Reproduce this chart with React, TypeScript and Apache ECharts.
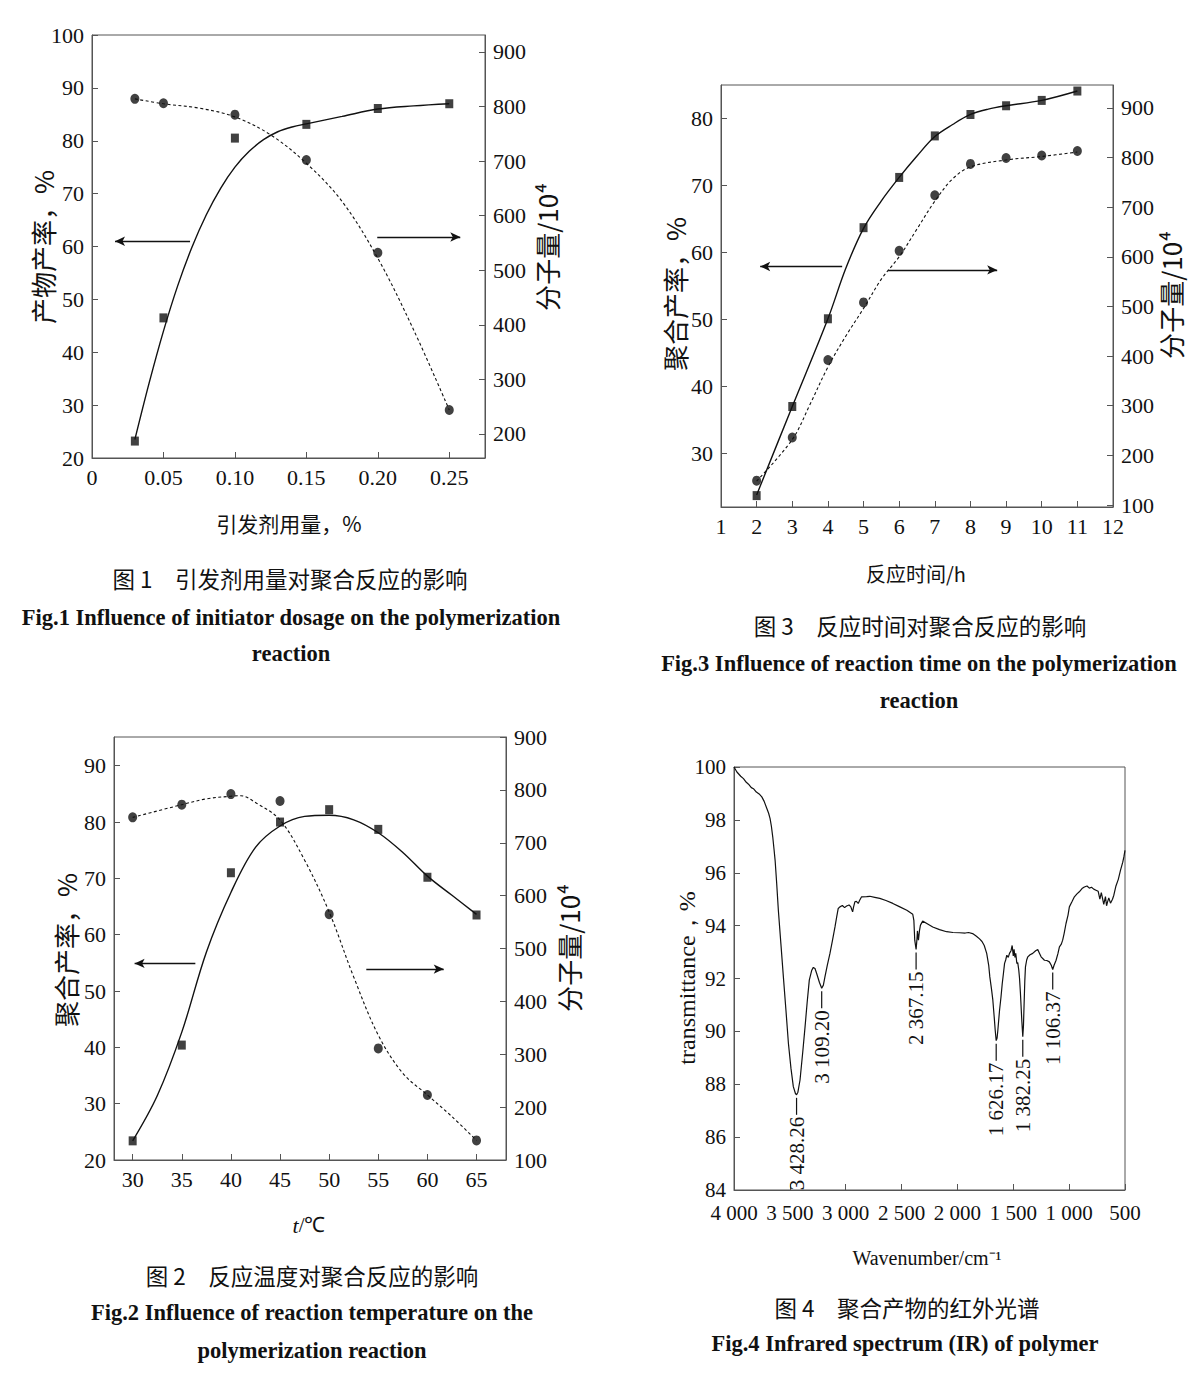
import React, { useEffect, useRef } from "react";
import * as echarts from "echarts";

const SERIF = "'Liberation Serif', 'Times New Roman', serif";
const CJK = "'Noto Sans CJK SC', 'Noto Sans', sans-serif";
const INK = "#111";
const FRAME = "#555";

// ---------- Fig.1 initiator dosage ----------
const fig1Dosage = [0.03, 0.05, 0.1, 0.15, 0.2, 0.25];
const fig1Yield = [23.2, 46.5, 80.5, 83.1, 86.1, 87.0];
const fig1MW = [814, 806, 785, 702, 532, 244];
const fig1YieldCurveX = [0.03, 0.04, 0.05, 0.06, 0.07, 0.08, 0.09, 0.1, 0.11, 0.12, 0.13, 0.14, 0.15, 0.175, 0.2, 0.225, 0.25];
const fig1YieldCurve = [23.5, 34.2, 44, 52.6, 59.9, 66.0, 71.0, 75.0, 78.0, 80.2, 81.7, 82.6, 83.2, 84.6, 86.0, 86.6, 87.0];
const fig1MWCurveX = [0.03, 0.05, 0.075, 0.1, 0.125, 0.15, 0.175, 0.2, 0.225, 0.25];
const fig1MWCurve = [814, 805, 797, 781, 748, 696, 626, 522, 391, 244];
const fig1Arrows = [[0.0686, 0.0161, 61.0], [0.1996, 0.2577, 61.8]];

// ---------- Fig.3 reaction time ----------
const fig3Time = [2, 3, 4, 5, 6, 7, 8, 9, 10, 11];
const fig3Yield = [23.7, 37.0, 50.1, 63.7, 71.2, 77.4, 80.6, 81.9, 82.7, 84.1];
const fig3MW = [149, 236, 392, 508, 612, 724, 787, 799, 804, 813];
const fig3YieldCurveX = [2, 3, 4, 4.5, 5, 5.5, 6, 6.5, 7, 7.5, 8, 8.5, 9, 10, 11];
const fig3YieldCurve = [23.8, 37, 50.1, 57.6, 63.6, 67.7, 71.2, 74.4, 77.3, 79.1, 80.6, 81.4, 81.9, 82.7, 84.1];
const fig3MWCurveX = [2, 3, 3.5, 4, 4.5, 5, 5.5, 6, 6.5, 7, 7.5, 8, 9, 10, 11];
const fig3MWCurve = [148, 232, 303, 378, 440, 496, 555, 600, 656, 712, 757, 781, 795, 802, 811];
const fig3Arrows = [[4.4, 2.1, 57.9], [5.69, 8.75, 57.4]];

// ---------- Fig.2 reaction temperature ----------
const fig2Temp = [30, 35, 40, 45, 50, 55, 60, 65];
const fig2Yield = [23.4, 40.4, 71.0, 80.0, 82.2, 78.7, 70.2, 63.5];
const fig2MW = [748, 772, 792, 779, 565, 311, 223, 137];
const fig2YieldCurveX = [30, 32.5, 35, 37.5, 40, 42.5, 45, 47.5, 50, 52.5, 55, 57.5, 60, 62.5, 65];
const fig2YieldCurve = [23.4, 31.4, 42.7, 56.9, 67.5, 75.5, 79.3, 81.0, 81.2, 80.4, 78.1, 74.6, 70.4, 67.0, 63.6];
const fig2MWCurveX = [30, 35, 37.5, 40, 41, 42.5, 45, 47.5, 50, 52.5, 55, 57.5, 60, 62.5, 65];
const fig2MWCurve = [748, 772, 783, 788, 789, 776, 743, 667, 569, 446, 336, 264, 223, 182, 137];
const fig2Arrows = [[36.38, 30.2, 54.9], [53.78, 61.66, 53.9]];

// ---------- Fig.4 IR spectrum [wavenumber, transmittance] ----------
const irSpectrum = [
  [4000, 100], [3974, 99.81], [3940, 99.65], [3915, 99.56], [3890, 99.42], [3870, 99.35], [3845, 99.22],
  [3826, 99.18], [3800, 99.05], [3775, 98.98], [3751, 98.87], [3730, 98.7], [3706, 98.43], [3690, 98.25],
  [3677, 98.05], [3665, 97.75], [3653, 97.35], [3642, 96.9], [3632, 96.47], [3618, 95.6], [3603, 94.58],
  [3580, 93.3], [3558, 92.06], [3535, 90.8], [3513, 89.55], [3490, 88.6], [3469, 87.91], [3450, 87.65],
  [3440, 87.6], [3428, 87.7], [3409, 88.16], [3385, 89.2], [3364, 90.17], [3345, 91.1], [3326, 91.94],
  [3305, 92.3], [3290, 92.42], [3275, 92.38], [3260, 92.19], [3235, 91.85], [3215, 91.63], [3200, 91.75],
  [3186, 92.06], [3165, 92.5], [3141, 92.95], [3118, 93.45], [3096, 93.95], [3080, 94.35], [3067, 94.65],
  [3052, 94.71], [3030, 94.76], [3010, 94.68], [2992, 94.74], [2970, 94.78], [2955, 94.72], [2945, 94.6],
  [2938, 94.52], [2930, 94.7], [2918, 94.9], [2905, 94.92], [2888, 94.84], [2875, 94.96], [2858, 95.09],
  [2813, 95.1], [2784, 95.11], [2740, 95.07], [2695, 95.03], [2640, 94.95], [2578, 94.84], [2520, 94.72],
  [2453, 94.58], [2400, 94.43], [2390, 94.2], [2382, 93.45], [2370, 93.1], [2362, 93.5], [2358, 93.8],
  [2353, 93.6], [2349, 93.45], [2340, 93.8], [2331, 94.02], [2311, 94.17], [2270, 94.07], [2221, 93.95],
  [2160, 93.85], [2097, 93.77], [2040, 93.74], [1980, 93.73], [1930, 93.72], [1900, 93.74], [1864, 93.7],
  [1830, 93.6], [1802, 93.5], [1780, 93.4], [1760, 93.25], [1738, 92.95], [1720, 92.5], [1710, 92.06],
  [1695, 91.6], [1683, 91.18], [1670, 90.5], [1662, 90.05], [1653, 89.65], [1645, 89.75], [1638, 90.05],
  [1623, 90.8], [1610, 91.3], [1599, 91.8], [1588, 92.2], [1578, 92.57], [1568, 92.7], [1558, 92.88],
  [1545, 92.8], [1534, 92.95], [1520, 93.05], [1510, 93.25], [1500, 92.85], [1493, 93.1], [1485, 92.8],
  [1478, 92.95], [1468, 92.57], [1460, 92.6], [1451, 92.32], [1444, 92.0], [1436, 91.44], [1424, 90.43],
  [1415, 89.8], [1409, 90.2], [1403, 91.06], [1397, 91.9], [1391, 92.44], [1380, 92.7], [1370, 92.82],
  [1350, 92.9], [1326, 92.95], [1300, 93.05], [1281, 93.1], [1265, 92.95], [1251, 92.82], [1221, 92.69],
  [1200, 92.68], [1177, 92.63], [1160, 92.5], [1147, 92.34], [1135, 92.5], [1117, 92.69], [1100, 92.95],
  [1087, 93.2], [1070, 93.3], [1058, 93.45], [1045, 93.7], [1028, 94.08], [1010, 94.4], [998, 94.71],
  [975, 94.9], [953, 95.09], [930, 95.2], [909, 95.28], [885, 95.4], [864, 95.46], [840, 95.5],
  [819, 95.42], [800, 95.45], [780, 95.38], [760, 95.34], [740, 95.3], [725, 95.0], [712, 95.25],
  [701, 95.03], [690, 94.8], [675, 95.1], [665, 94.75], [656, 94.9], [645, 95.05], [630, 94.85],
  [612, 95.0], [600, 95.15], [581, 95.5], [560, 95.75], [540, 96.1], [520, 96.4], [510, 96.6], [500, 96.85],
];
const irPeakX = [3440, 3215, 2370, 1653, 1415, 1147];
const irPeakY = [87.6, 91.63, 93.1, 89.65, 89.8, 92.34];
const irPeakLabels = ["3 428.26", "3 109.20", "2 367.15", "1 626.17", "1 382.25", "1 106.37"];

const zip = (xs: number[], ys: number[]) => xs.map((x, i) => [x, ys[i]]);

const axisBase = (extra: any = {}, size = 22, family = SERIF) => {
  const { axisLabel: extraLabel, ...rest } = extra;
  return {
    type: "value",
    axisLine: { show: true, onZero: false, lineStyle: { color: FRAME, width: 1 } },
    axisTick: { show: true, inside: true, length: 6, lineStyle: { color: FRAME, width: 1 } },
    splitLine: { show: false },
    ...rest,
    axisLabel: {
      color: INK,
      fontSize: size,
      fontFamily: family,
      fontStyle: "normal",
      fontWeight: "normal",
      margin: 8,
      ...(extraLabel || {}),
    },
  };
};

const curve = (xi: number, yi: number, data: number[][], dashed: boolean) => ({
  type: "line",
  xAxisIndex: xi,
  yAxisIndex: yi,
  data,
  smooth: 0.35,
  symbol: "none",
  showSymbol: false,
  silent: true,
  z: 2,
  lineStyle: { color: INK, width: dashed ? 1.1 : 1.4, type: dashed ? [3, 2.5] : "solid" },
});

const marks = (xi: number, yi: number, data: number[][], symbol: string, size: number[], arrows?: number[][]) => ({
  type: "scatter",
  xAxisIndex: xi,
  yAxisIndex: yi,
  data,
  symbol,
  symbolSize: size,
  silent: true,
  z: 3,
  itemStyle: { color: INK },
  markLine: arrows
    ? {
        silent: true,
        symbol: ["none", "arrow"],
        symbolSize: [7, 10],
        label: { show: false },
        lineStyle: { color: INK, width: 1.3, type: "solid" },
        data: arrows.map(([a, b, y]) => [{ coord: [a, y] }, { coord: [b, y] }]),
      }
    : undefined,
});

const gridStyle = { show: true, borderColor: FRAME, borderWidth: 1, backgroundColor: "transparent" };

const wnFmt = (v: number) => (v >= 1000 ? `${Math.floor(v / 1000)} ${String(v % 1000).padStart(3, "0")}` : String(v));

function buildOption() {
  return {
    animation: false,
    backgroundColor: "#fff",
    textStyle: { fontFamily: SERIF },
    grid: [
      { left: 92, top: 35, width: 393, height: 423, ...gridStyle },
      { left: 721, top: 85, width: 392, height: 422, ...gridStyle },
      { left: 114, top: 737, width: 392, height: 423, ...gridStyle },
      { left: 734, top: 767, width: 391, height: 423, ...gridStyle },
    ],
    xAxis: [
      axisBase({
        gridIndex: 0, min: 0, max: 0.275, interval: 0.05,
        axisLabel: { showMinLabel: true, showMaxLabel: false, formatter: (v: number) => (v === 0 ? "0" : v.toFixed(2)) },
      }),
      axisBase({ gridIndex: 1, min: 1, max: 12, interval: 1, axisLabel: { showMinLabel: true, showMaxLabel: true } }),
      axisBase({
        gridIndex: 2, min: 28.1, max: 68, minInterval: 5, maxInterval: 5,
        axisLabel: { showMinLabel: false, showMaxLabel: false },
      }),
      axisBase(
        {
          gridIndex: 3, min: 500, max: 4000, interval: 500, inverse: true,
          axisLabel: { showMinLabel: true, showMaxLabel: true, margin: 12, formatter: wnFmt },
        },
        21
      ),
    ],
    yAxis: [
      axisBase({ gridIndex: 0, position: "left", min: 20, max: 100, interval: 10, axisLabel: { showMinLabel: true, showMaxLabel: true } }),
      axisBase({
        gridIndex: 0, position: "right", min: 156, max: 931, minInterval: 100, maxInterval: 100,
        axisLabel: { showMinLabel: false, showMaxLabel: false },
      }),
      axisBase({
        gridIndex: 1, position: "left", min: 22, max: 85, minInterval: 10, maxInterval: 10,
        axisLabel: { showMinLabel: false, showMaxLabel: false },
      }),
      axisBase({
        gridIndex: 1, position: "right", min: 96, max: 946, minInterval: 100, maxInterval: 100,
        axisLabel: { showMinLabel: false, showMaxLabel: false },
      }),
      axisBase({ gridIndex: 2, position: "left", min: 20, max: 95.1, interval: 10, axisLabel: { showMinLabel: true, showMaxLabel: false } }),
      axisBase({ gridIndex: 2, position: "right", min: 100, max: 900, interval: 100, axisLabel: { showMinLabel: true, showMaxLabel: true } }),
      axisBase({ gridIndex: 3, position: "left", min: 84, max: 100, interval: 2, axisLabel: { showMinLabel: true, showMaxLabel: true } }, 21),
    ],
    series: [
      curve(0, 0, zip(fig1YieldCurveX, fig1YieldCurve), false),
      curve(0, 1, zip(fig1MWCurveX, fig1MWCurve), true),
      marks(0, 0, zip(fig1Dosage, fig1Yield), "rect", [8, 9], fig1Arrows),
      marks(0, 1, zip(fig1Dosage, fig1MW), "circle", [9, 10]),

      curve(1, 2, zip(fig3YieldCurveX, fig3YieldCurve), false),
      curve(1, 3, zip(fig3MWCurveX, fig3MWCurve), true),
      marks(1, 2, zip(fig3Time, fig3Yield), "rect", [8, 9], fig3Arrows),
      marks(1, 3, zip(fig3Time, fig3MW), "circle", [9, 10]),

      curve(2, 4, zip(fig2YieldCurveX, fig2YieldCurve), false),
      curve(2, 5, zip(fig2MWCurveX, fig2MWCurve), true),
      marks(2, 4, zip(fig2Temp, fig2Yield), "rect", [8, 9], fig2Arrows),
      marks(2, 5, zip(fig2Temp, fig2MW), "circle", [9, 10]),

      {
        type: "line",
        xAxisIndex: 3,
        yAxisIndex: 6,
        data: irSpectrum,
        symbol: "none",
        showSymbol: false,
        silent: true,
        lineStyle: { color: INK, width: 1.2 },
      },
    ],
  };
}

const txt = (x: number, y: number, text: string, o: any = {}) => ({
  type: "text",
  x,
  y,
  rotation: o.rot ? Math.PI / 2 : 0,
  silent: true,
  z: 10,
  style: {
    text,
    fontSize: o.size || 22,
    fontFamily: o.family || CJK,
    fontWeight: o.weight || "normal",
    fill: INK,
    align: o.align || "center",
    textAlign: o.align || "center",
    verticalAlign: "middle",
    textVerticalAlign: "middle",
    rich: o.rich,
  },
});

function buildGraphics(chart: any) {
  const g: any[] = [
    txt(42, 247, "产物产率，%", { rot: true, size: 26 }),
    txt(546, 247, "分子量/10⁴", { rot: true, size: 26 }),
    txt(289, 523, "引发剂用量，%", { size: 21 }),
    txt(674, 294, "聚合产率，%", { rot: true, size: 26 }),
    txt(1170, 295, "分子量/10⁴", { rot: true, size: 26 }),
    txt(916, 573, "反应时间/h", { size: 20 }),
    txt(65, 950, "聚合产率，%", { rot: true, size: 26 }),
    txt(568, 948, "分子量/10⁴", { rot: true, size: 26 }),
    txt(309, 1225, "{it|t}/℃", { size: 21, family: SERIF, rich: { it: { fontStyle: "italic", fontSize: 22, fontFamily: SERIF } } }),
    txt(687, 978, "transmittance，%", { rot: true, size: 24, family: SERIF }),
    txt(927, 1258, "Wavenumber/cm⁻¹", { size: 20, family: SERIF }),
    txt(290, 578, "图 1　引发剂用量对聚合反应的影响", { size: 22.5 }),
    txt(291, 617, "Fig.1 Influence of initiator dosage on the polymerization", { size: 22.5, family: SERIF, weight: "bold" }),
    txt(291, 653, "reaction", { size: 22.5, family: SERIF, weight: "bold" }),
    txt(920, 625, "图 3　反应时间对聚合反应的影响", { size: 22.5 }),
    txt(919, 663, "Fig.3 Influence of reaction time on the polymerization", { size: 22.5, family: SERIF, weight: "bold" }),
    txt(919, 700, "reaction", { size: 22.5, family: SERIF, weight: "bold" }),
    txt(312, 1275, "图 2　反应温度对聚合反应的影响", { size: 22.5 }),
    txt(312, 1312, "Fig.2 Influence of reaction temperature on the", { size: 22.5, family: SERIF, weight: "bold" }),
    txt(312, 1350, "polymerization reaction", { size: 22.5, family: SERIF, weight: "bold" }),
    txt(907, 1307, "图 4　聚合产物的红外光谱", { size: 22.5 }),
    txt(905, 1343, "Fig.4 Infrared spectrum (IR) of polymer", { size: 22.5, family: SERIF, weight: "bold" }),
  ];
  irPeakX.forEach((w, i) => {
    const p = chart.convertToPixel({ xAxisIndex: 3, yAxisIndex: 6 }, [w, irPeakY[i]]);
    if (!p) return;
    const x = p[0];
    const y = p[1];
    g.push({
      type: "line",
      silent: true,
      z: 10,
      shape: { x1: x, y1: y + 3, x2: x, y2: y + 20 },
      style: { stroke: INK, lineWidth: 1.2 },
    });
    g.push(txt(x, y + 22, irPeakLabels[i], { rot: true, size: 21, family: SERIF, align: "right" }));
  });
  return g;
}

export default function App() {
  const ref = useRef<HTMLDivElement>(null);
  useEffect(() => {
    if (!ref.current) return;
    const chart = echarts.init(ref.current, null, { renderer: "svg", width: 1200, height: 1396 });
    chart.setOption(buildOption() as any);
    chart.setOption({ graphic: buildGraphics(chart) } as any);
    return () => chart.dispose();
  }, []);
  return (
    <div
      ref={ref}
      style={{ position: "absolute", left: 0, top: 0, width: 1200, height: 1396, background: "#fff" }}
    />
  );
}
